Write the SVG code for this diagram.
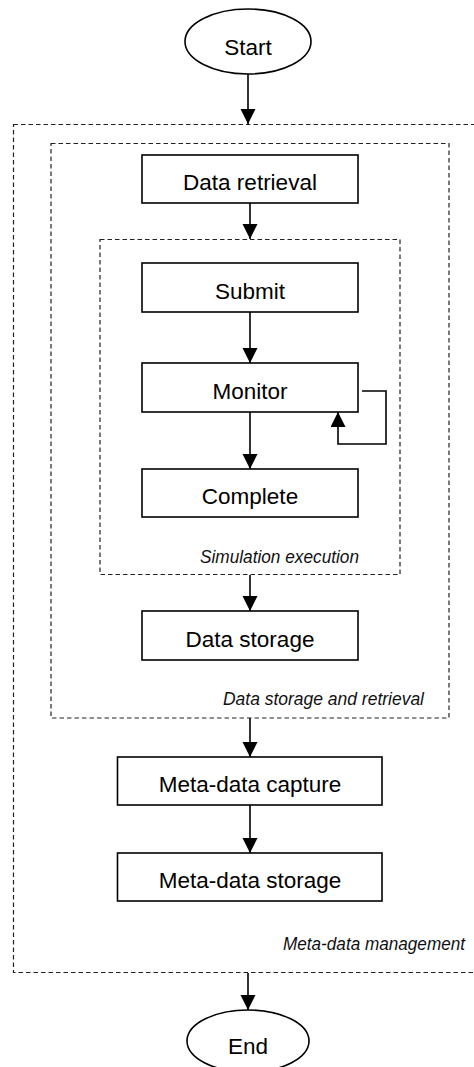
<svg xmlns="http://www.w3.org/2000/svg" width="474" height="1067" viewBox="0 0 474 1067">
<defs>
<marker id="arr" markerUnits="userSpaceOnUse" markerWidth="16" markerHeight="18" refX="15" refY="7.5" orient="auto">
<path d="M0,0 L15,7.5 L0,15 Z" fill="#000"/>
</marker>
<style>
.node rect, .node ellipse { fill: #fff; stroke: #000; stroke-width: 1.6; }
.grp { fill: none; stroke: #222; stroke-width: 1.2; stroke-dasharray: 4.5 3; }
.lbl { font-family: "Liberation Sans", Arial, sans-serif; font-size: 22.5px; fill: #000; text-anchor: middle; }
.glbl { font-family: "Liberation Sans", Arial, sans-serif; font-size: 17.5px; font-style: italic; fill: #111; text-anchor: end; }
.conn path { fill: none; stroke: #000; stroke-width: 1.6; marker-end: url(#arr); }
</style>
</defs>
<rect width="474" height="1067" fill="#fff"/>
<g id="groups">
<rect id="meta-data-management" class="grp" x="13.5" y="124.5" width="462" height="848"/>
<rect id="data-storage-and-retrieval" class="grp" x="51" y="143.5" width="398" height="574.5"/>
<rect id="simulation-execution" class="grp" x="100" y="239.5" width="300" height="335"/>
<text class="glbl" x="359" y="563" textLength="159" lengthAdjust="spacingAndGlyphs">Simulation execution</text>
<text class="glbl" x="424" y="705" textLength="201" lengthAdjust="spacingAndGlyphs">Data storage and retrieval</text>
<text class="glbl" x="465" y="950" textLength="182" lengthAdjust="spacingAndGlyphs">Meta-data management</text>
</g>
<g id="start" class="node"><ellipse cx="248" cy="41.5" rx="63" ry="32.5"/><text class="lbl" x="248" y="55">Start</text></g>
<g id="data-retrieval" class="node"><rect x="142" y="155" width="216" height="48"/><text class="lbl" x="250" y="190">Data retrieval</text></g>
<g id="submit" class="node"><rect x="142" y="263" width="216" height="49"/><text class="lbl" x="250" y="299">Submit</text></g>
<g id="monitor" class="node"><rect x="142" y="363" width="216" height="49"/><text class="lbl" x="250" y="399">Monitor</text></g>
<g id="complete" class="node"><rect x="142" y="469" width="216" height="48"/><text class="lbl" x="250" y="504">Complete</text></g>
<g id="data-storage" class="node"><rect x="142" y="611" width="216" height="49"/><text class="lbl" x="250" y="647">Data storage</text></g>
<g id="meta-data-capture" class="node"><rect x="117.5" y="757" width="264.5" height="48"/><text class="lbl" x="250" y="792">Meta-data capture</text></g>
<g id="meta-data-storage" class="node"><rect x="117.5" y="853" width="264.5" height="48"/><text class="lbl" x="250" y="888">Meta-data storage</text></g>
<g id="end" class="node"><ellipse cx="248" cy="1041" rx="61" ry="31"/><text class="lbl" x="248" y="1054">End</text></g>
<g id="connectors" class="conn">
<path d="M248,74 V124"/>
<path d="M250,203 V239"/>
<path d="M250,312 V363"/>
<path d="M250,412 V469"/>
<path d="M362,391 H386 V444 H338 V412"/>
<path d="M250,575 V611"/>
<path d="M250,718 V757"/>
<path d="M250,805 V853"/>
<path d="M248,973 V1010"/>
</g>
</svg>
